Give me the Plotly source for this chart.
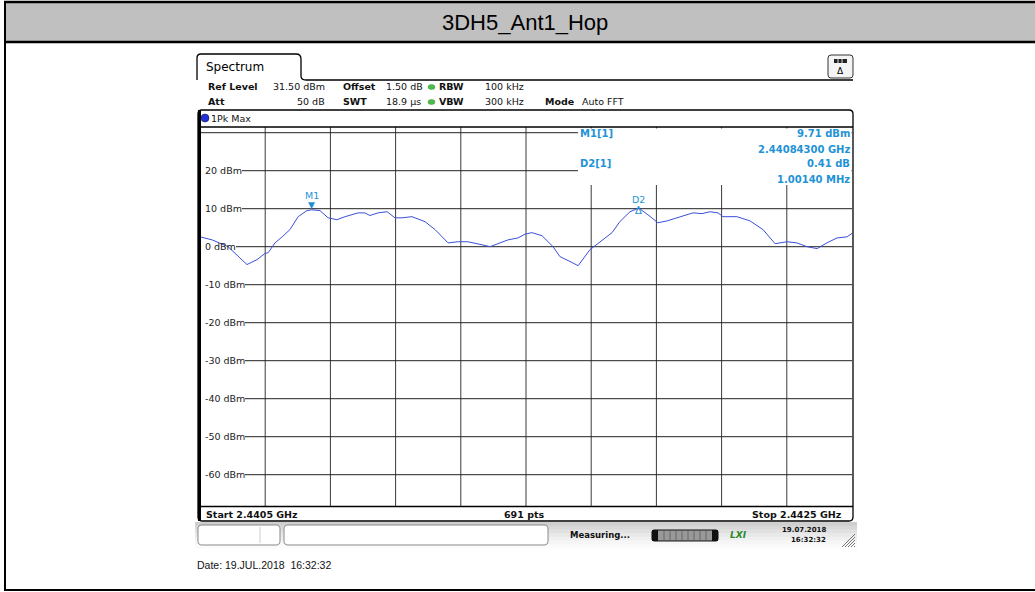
import plotly.graph_objects as go

W, H = 1035, 592

# ---------------- data ----------------
title_text = "3DH5_Ant1_Hop"
f_start_ghz = 2.4405
f_stop_ghz = 2.4425
ref_level = 31.5
y_bottom = -68.5
ytick_vals = [20, 10, 0, -10, -20, -30, -40, -50, -60]
ytick_text = ["20 dBm", "10 dBm", "0 dBm", "-10 dBm", "-20 dBm", "-30 dBm", "-40 dBm", "-50 dBm", "-60 dBm"]

# trace: frequency offset from start (MHz) and level (dBm)
trace_off_mhz = [0.000, 0.037, 0.086, 0.144, 0.175, 0.199, 0.209, 0.230, 0.252, 0.276,
                 0.301, 0.328, 0.343, 0.368, 0.393, 0.420, 0.445, 0.485, 0.506, 0.521,
                 0.546, 0.574, 0.598, 0.620, 0.650, 0.690, 0.721, 0.761, 0.791, 0.822,
                 0.865, 0.890, 0.914, 0.945, 0.975, 0.997, 1.018, 1.049, 1.083, 1.104,
                 1.135, 1.160, 1.196, 1.227, 1.264, 1.288, 1.319, 1.3445, 1.350, 1.374,
                 1.405, 1.433, 1.463, 1.512, 1.540, 1.564, 1.589, 1.604, 1.647, 1.687,
                 1.727, 1.764, 1.801, 1.831, 1.862, 1.893, 1.923, 1.954, 1.985, 2.000]
trace_dbm = [2.6, 1.8, 0.0, -4.7, -3.4, -1.8, -1.6, 1.0, 2.6, 4.5,
             7.9, 9.5, 9.71, 9.5, 7.6, 7.1, 7.9, 8.9, 8.9, 8.2,
             8.9, 9.2, 7.6, 7.6, 7.9, 6.6, 4.5, 1.0, 1.3, 1.3,
             0.5, 0.0, 0.8, 1.8, 2.3, 3.3, 3.7, 2.9, 0.0, -2.6,
             -3.9, -5.0, -0.8, 1.3, 3.7, 6.6, 9.2, 10.12, 9.9, 8.4,
             6.3, 6.8, 7.6, 8.9, 8.7, 9.2, 8.9, 7.9, 7.9, 6.8,
             4.5, 0.8, 1.3, 1.0, 0.0, -0.5, 1.0, 2.3, 2.6, 3.5]

m1_freq_ghz = 2.440843
m1_level = 9.71
d2_delta_mhz = 1.0014
d2_delta_db = 0.41

header_row1 = [("Ref Level", True), ("31.50 dBm", False), ("Offset", True), ("1.50 dB", False),
               ("RBW", True), ("100 kHz", False)]
header_row2 = [("Att", True), ("50 dB", False), ("SWT", True), ("18.9 µs", False),
               ("VBW", True), ("300 kHz", False), ("Mode", True), ("Auto FFT", False)]
marker_table = [("M1[1]", "9.71 dBm", "2.44084300 GHz"), ("D2[1]", "0.41 dB", "1.00140 MHz")]
start_label = "Start 2.4405 GHz"
stop_label = "Stop 2.4425 GHz"
pts_label = "691 pts"
date_label = "Date: 19.JUL.2018&nbsp;&nbsp;16:32:32"

# ---------------- helpers ----------------
def px(x):
    return x / W

def py(y):
    return 1 - y / H

trace_freq = [f_start_ghz + o / 1000.0 for o in trace_off_mhz]
d2_freq = m1_freq_ghz + d2_delta_mhz / 1000.0
d2_level = m1_level + d2_delta_db

INSTR = "DejaVu Sans"
BLUE_TXT = "#1f93d6"
TRACE_C = "#3b4fd8"

shapes = []
annots = []

def line(x0, y0, x1, y1, color="#000", width=1, layer="above"):
    shapes.append(dict(type="line", xref="paper", yref="paper",
                       x0=px(x0), y0=py(y0), x1=px(x1), y1=py(y1),
                       line=dict(color=color, width=width), layer=layer))

def rect(x0, y0, x1, y1, fill=None, color=None, width=1, layer="above"):
    shapes.append(dict(type="rect", xref="paper", yref="paper",
                       x0=px(x0), y0=py(y0), x1=px(x1), y1=py(y1),
                       fillcolor=fill if fill else "rgba(0,0,0,0)",
                       line=dict(color=color if color else "rgba(0,0,0,0)", width=width if color else 0),
                       layer=layer))

def path(cmds, color="#000", width=1, fill=None, layer="above"):
    s = ""
    for c in cmds:
        if c[0] == "Z":
            s += " Z"
        elif c[0] == "Q":
            s += f" Q{px(c[1]):.5f},{py(c[2]):.5f} {px(c[3]):.5f},{py(c[4]):.5f}"
        else:
            s += f" {c[0]}{px(c[1]):.5f},{py(c[2]):.5f}"
    shapes.append(dict(type="path", xref="paper", yref="paper", path=s.strip(),
                       line=dict(color=color, width=width),
                       fillcolor=fill if fill else "rgba(0,0,0,0)", layer=layer))

def rrect(x0, y0, x1, y1, r, color="#000", width=1, fill=None, layer="above"):
    path([("M", x0 + r, y0), ("L", x1 - r, y0), ("Q", x1, y0, x1, y0 + r),
          ("L", x1, y1 - r), ("Q", x1, y1, x1 - r, y1), ("L", x0 + r, y1),
          ("Q", x0, y1, x0, y1 - r), ("L", x0, y0 + r), ("Q", x0, y0, x0 + r, y0), ("Z",)],
         color=color, width=width, fill=fill, layer=layer)

def text(x, y, s, size=10, color="#000", xanchor="left", yanchor="middle", family=INSTR, bold=False):
    annots.append(dict(xref="paper", yref="paper", x=px(x), y=py(y),
                       text=f"<b>{s}</b>" if bold else s, showarrow=False,
                       xanchor=xanchor, yanchor=yanchor, borderpad=0,
                       font=dict(family=family, size=size, color=color)))

# ---------------- outer frame & title ----------------
rect(5, 2, 1035, 42, fill="#c0c0c0")
line(4, 2, 1035, 2, width=2.5)
line(4, 42, 1035, 42, width=2.5)
line(5, 2, 5, 590, width=2)
line(4, 590, 1035, 590, width=2)
text(525, 23, title_text, size=22, family="Liberation Sans, Arial", xanchor="center")

# ---------------- instrument header ----------------
path([("M", 197, 80), ("L", 197, 58), ("Q", 197, 54, 201, 54), ("L", 296, 54),
      ("Q", 301, 54, 301, 59), ("L", 301, 76), ("Q", 301, 80, 306, 80), ("L", 853, 80)],
     color="#000", width=1.3)
text(205, 67, "Spectrum", size=12)
rrect(828, 55, 853, 78, 3, color="#333", width=1, fill="#f4f4f4")
rect(834, 59, 847, 63, fill="#222")
for sx in (838, 842):
    line(sx, 59, sx, 63, color="#ddd")
text(840.5, 71, "Δ", size=9, xanchor="center")

row1_x = [(207, "left"), (326, "right"), (342, "left"), (385, "left"), (438, "left"), (525, "right")]
row2_x = [(207, "left"), (326, "right"), (342, "left"), (385, "left"), (438, "left"), (525, "right"),
          (544, "left"), (581, "left")]
for (s, b), (x, xa) in zip(header_row1, row1_x):
    text(x, 87, s, size=9.5, bold=b, xanchor=xa, color="#111")
for (s, b), (x, xa) in zip(header_row2, row2_x):
    text(x, 102, s, size=9.5, bold=b, xanchor=xa, color="#111")
for yy in (87, 102):
    shapes.append(dict(type="circle", xref="paper", yref="paper",
                       x0=px(428), y0=py(yy + 2.5), x1=px(435), y1=py(yy - 2.5),
                       fillcolor="#4cbb4c", line=dict(color="#3a9a3a", width=0.5)))

# ---------------- plot frame ----------------
rrect(198, 110, 853, 521, 4, color="#000", width=1.3)
line(199.5, 110, 199.5, 521, width=3)
line(199, 127, 853, 127, width=1.3)
line(199, 506.5, 853, 506.5, width=1.3)
shapes.append(dict(type="circle", xref="paper", yref="paper",
                   x0=px(201), y0=py(122), x1=px(209), y1=py(114),
                   fillcolor="#2233dd", line=dict(color="#112", width=0.5)))
text(210, 118, "1Pk Max", size=9.5, color="#111")

ndiv = 10
for k in range(1, ndiv):
    fx = f_start_ghz + k * (f_stop_ghz - f_start_ghz) / ndiv
    shapes.append(dict(type="line", xref="x", yref="paper", x0=fx, x1=fx,
                       y0=py(506.5), y1=py(127), line=dict(color="#3a3a3a", width=1), layer="below"))
label_w = {"20 dBm": 38, "10 dBm": 38, "0 dBm": 32, "-10 dBm": 41, "-20 dBm": 41, "-30 dBm": 41,
           "-40 dBm": 41, "-50 dBm": 41, "-60 dBm": 41}
shapes.append(dict(type="line", xref="paper", yref="y", x0=px(201), x1=px(852), y0=30, y1=30,
                   line=dict(color="#222", width=1), layer="below"))
for v, t in zip(ytick_vals, ytick_text):
    shapes.append(dict(type="line", xref="paper", yref="y", x0=px(204 + label_w[t]), x1=px(852),
                       y0=v, y1=v, line=dict(color="#222", width=1), layer="below"))
    annots.append(dict(xref="paper", yref="y", x=px(204), y=v, text=t, showarrow=False,
                       xanchor="left", yanchor="middle", borderpad=0,
                       font=dict(family=INSTR, size=9.5, color="#222")))

rect(578, 128.5, 851.5, 185, fill="#ffffff", layer="above")
for i, (name, val, pos) in enumerate(marker_table):
    y0 = 134 + i * 30
    text(579, y0, name, size=10, color=BLUE_TXT, bold=True)
    text(851, y0, val, size=10, color=BLUE_TXT, bold=True, xanchor="right")
    text(851, y0 + 15, pos, size=10, color=BLUE_TXT, bold=True, xanchor="right")

# ---------------- markers on trace ----------------
annots.append(dict(xref="x", yref="y", x=m1_freq_ghz, y=m1_level, text="▼", showarrow=False,
                   yshift=5, font=dict(family=INSTR, size=9, color="#1a8fd6"), borderpad=0))
annots.append(dict(xref="x", yref="y", x=m1_freq_ghz, y=m1_level, text="M1", showarrow=False,
                   yshift=14, font=dict(family=INSTR, size=9.5, color=BLUE_TXT), borderpad=0))
annots.append(dict(xref="x", yref="y", x=d2_freq, y=d2_level, text="Δ", showarrow=False,
                   yshift=-2, font=dict(family=INSTR, size=10, color="#1a8fd6"), borderpad=0))
annots.append(dict(xref="x", yref="y", x=d2_freq, y=d2_level, text="D2", showarrow=False,
                   yshift=9, font=dict(family=INSTR, size=9.5, color=BLUE_TXT), borderpad=0))

# ---------------- bottom labels ----------------
text(205, 514, start_label, size=9.5, bold=True, color="#111")
text(524, 514, pts_label, size=9.5, bold=True, color="#111", xanchor="center")
text(843, 514, stop_label, size=9.5, bold=True, color="#111", xanchor="right")

bands = ["#cfcfcf", "#d8d8d8", "#e1e1e1", "#e9e9e9", "#f0f0f0", "#f6f6f6", "#fbfbfb"]
bh = 26 / len(bands)
for i, c in enumerate(bands):
    rect(195, 522 + i * bh, 857, 522 + (i + 1) * bh + 0.5, fill=c)
rrect(198, 525, 280, 545, 4, color="#888", width=1, fill="#ffffff")
line(260, 527, 260, 543, color="#ccc")
rrect(284, 525, 548, 545, 4, color="#888", width=1, fill="#ffffff")
text(569, 535, "Measuring...", size=8.5, bold=True, color="#111")
rrect(652, 530, 718, 541, 2, color="#111", width=1, fill="#999999")
rect(652, 530, 658, 541, fill="#111")
rect(712, 530, 718, 541, fill="#111")
for sx in range(664, 712, 6):
    line(sx, 531, sx, 540, color="#666")
text(738, 535, "<i>LXI</i>", size=9, bold=True, color="#2a8a2a", xanchor="center")
text(827, 530, "19.07.2018", size=7, bold=True, color="#111", xanchor="right")
text(827, 540, "16:32:32", size=7, bold=True, color="#111", xanchor="right")
for k in range(5):
    line(842 + k * 3, 547, 855, 534 + k * 3, color="#777")

text(196, 565, date_label, size=10.5, family="Liberation Sans, Arial", color="#111")

# ---------------- figure ----------------
fig = go.Figure()
fig.add_trace(go.Scatter(x=trace_freq, y=trace_dbm, mode="lines",
                         line=dict(color=TRACE_C, width=1), hoverinfo="skip", showlegend=False))
fig.update_layout(
    width=W, height=H, autosize=False,
    margin=dict(l=0, r=0, t=0, b=0),
    paper_bgcolor="#ffffff", plot_bgcolor="#ffffff",
    xaxis=dict(domain=[px(200), px(852)], range=[f_start_ghz, f_stop_ghz], showgrid=False,
               zeroline=False, showticklabels=False, ticks="", showline=False, fixedrange=True),
    yaxis=dict(domain=[py(507), py(127)], range=[y_bottom, ref_level], showgrid=False,
               zeroline=False, showticklabels=False, ticks="", showline=False, fixedrange=True),
    shapes=shapes, annotations=annots, showlegend=False,
)
fig.write_html("out.html", config={"displayModeBar": False},
               post_script="document.body.style.margin='0px';document.body.style.overflow='hidden';")
